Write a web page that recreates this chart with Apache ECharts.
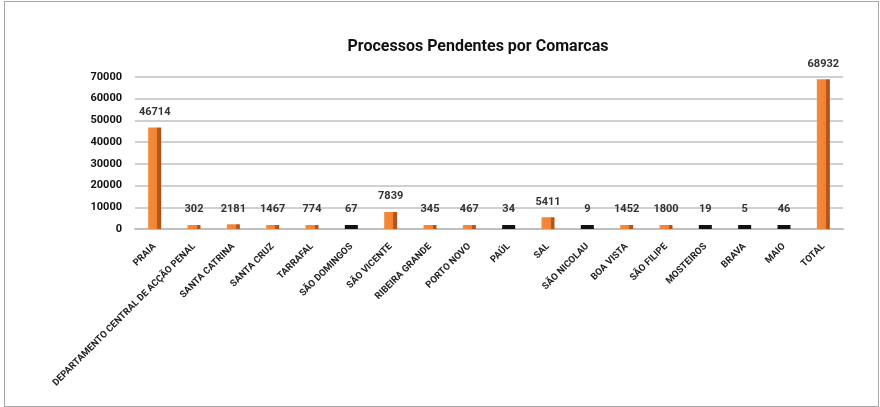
<!DOCTYPE html>
<html>
<head>
<meta charset="utf-8">
<script src="https://cdn.jsdelivr.net/npm/echarts@6/dist/echarts.min.js"></script>
<style>
  html, body { margin: 0; padding: 0; background: #fff; }
  #frame { position: absolute; left: 4px; top: 1px; width: 873px; height: 404px; border: 1px solid #a6a6a6; }
  #main { position: absolute; left: 0; top: 0; width: 880px; height: 407px; }
</style>
</head>
<body>
<div id="frame"></div>
<div id="main"></div>
<script>
// comarcas e processos pendentes
var comarcas = ['PRAIA', 'DEPARTAMENTO CENTRAL DE ACÇÃO PENAL', 'SANTA CATRINA', 'SANTA CRUZ', 'TARRAFAL',
  'SÃO DOMINGOS', 'SÃO VICENTE', 'RIBEIRA GRANDE', 'PORTO NOVO', 'PAÚL', 'SAL', 'SÃO NICOLAU',
  'BOA VISTA', 'SÃO FILIPE', 'MOSTEIROS', 'BRAVA', 'MAIO', 'TOTAL'];
var pendentes = [46714, 302, 2181, 1467, 774, 67, 7839, 345, 467, 34, 5411, 9, 1452, 1800, 19, 5, 46, 68932];
var yTicks = [0, 10000, 20000, 30000, 40000, 50000, 60000, 70000];

var font = 'Roboto, Arial, sans-serif';
var orange = new echarts.graphic.LinearGradient(0, 0, 1, 0, [
  {offset: 0, color: '#f58a3a'}, {offset: 0.7, color: '#f08233'},
  {offset: 0.7, color: '#b85a1c'}, {offset: 1, color: '#a9521a'}
]);

var chart = echarts.init(document.getElementById('main'));
chart.setOption({
  animation: false,
  title: {
    text: 'Processos Pendentes por Comarcas',
    left: 473, top: 34, textAlign: 'center',
    textStyle: {fontFamily: font, fontSize: 16, fontWeight: 'bold', color: '#111'}
  },
  grid: {left: 135, right: 37, top: 77, bottom: 178},
  xAxis: {
    type: 'category',
    data: comarcas,
    axisLine: {lineStyle: {color: '#bfbfbf', width: 2}},
    axisTick: {show: false},
    axisLabel: {rotate: 45, interval: 0, margin: 16, color: '#222',
      fontFamily: font, fontSize: 9.5, fontWeight: 'bold'}
  },
  yAxis: {
    type: 'value',
    min: yTicks[0], max: yTicks[yTicks.length - 1], interval: 10000,
    axisLine: {show: false},
    axisTick: {show: false},
    splitLine: {lineStyle: {color: '#d0d0d0', width: 2}},
    axisLabel: {margin: 13, color: '#111', fontFamily: font, fontSize: 11, fontWeight: 'bold',
      formatter: function (v) { return String(v); }}
  },
  series: [{
    type: 'bar',
    data: pendentes,
    barWidth: 13,
    barMinHeight: 4,
    itemStyle: {
      color: function (p) { return p.value < 100 ? '#111' : orange; }
    },
    label: {
      show: true, position: 'top', distance: 10, color: '#333',
      fontFamily: font, fontSize: 11, fontWeight: 'bold'
    }
  }]
});
</script>
</body>
</html>
